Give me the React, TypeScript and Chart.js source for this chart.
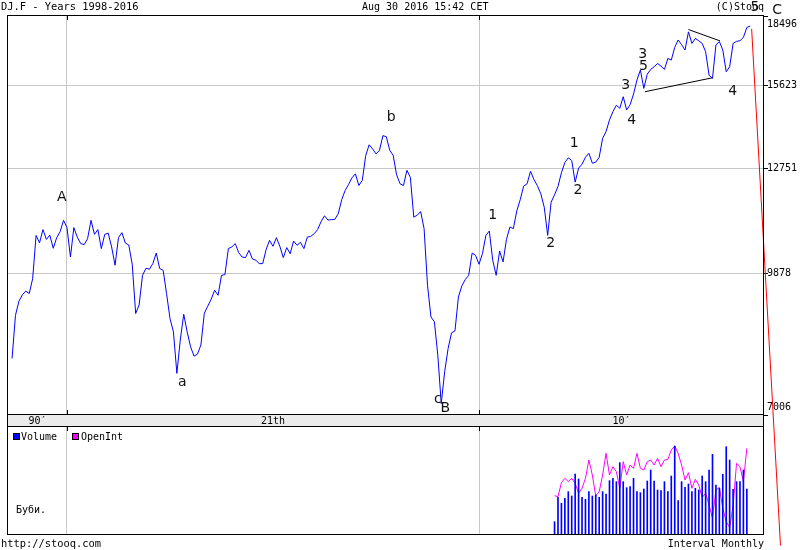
import React, { useEffect, useRef } from "react";
import { Chart, registerables } from "chart.js";
Chart.register(...registerables);

// months counted from Jan 1998 (0); first close = Sep 1998
const FIRST_MONTH = 8;
const closes = [
  8040, 8930, 9240, 9385, 9470, 9415, 9760, 10845, 10650, 11000, 10740, 10853, 10510, 10786, 10945, 11250,
  11053, 10289, 11053, 10800, 10632, 10605, 10760, 11250, 10872, 11000, 10502, 10872,
  10907, 10545, 10086, 10786, 10918, 10647, 10595, 10110, 8968, 9152, 9841, 10013,
  9988, 10126, 10390, 10005, 9964, 9415, 8860, 8577, 7753, 8408, 8952, 8577,
  8271, 8085, 8124, 8306, 8975, 9130, 9286, 9491, 9375, 9841, 9858, 10502,
  10545, 10632, 10400, 10289, 10274, 10459, 10241, 10209, 10126, 10126, 10480, 10716,
  10562, 10786, 10562, 10274, 10528, 10374, 10697, 10588, 10665, 10502, 10800, 10819,
  10891, 11000, 11215, 11376, 11258, 11269, 11277, 11432, 11828, 12094, 12276, 12475,
  12597, 12246, 12395, 13169, 13520, 13388, 13224, 13333, 13824, 13791, 13340, 13178,
  12566, 12297, 12246, 12706, 12493, 11338, 11392, 11494, 11026, 9608, 8894, 8790,
  8104, 7203, 7786, 8238, 8556, 8597, 9335, 9592, 9741, 9841, 10390, 10330,
  10110, 10374, 10845, 10962, 10209, 9841, 10441, 10167, 10742, 11069, 11026, 11513,
  11828, 12227, 12297, 12675, 12425, 12240, 12000, 11614, 10845, 11758, 11972, 12219,
  12628, 12950, 13097, 13013, 12346, 12772, 12897, 13116, 13244, 12928, 12960, 13116,
  13736, 13962, 14363, 14656, 14885, 14775, 15197, 14717, 14900, 15297, 15827, 16217,
  15509, 16058, 16240, 16347, 16479, 16375, 16240, 16679, 16616, 17136, 17448, 17249,
  17026, 17796, 17303, 17512, 17415, 17303, 16953, 16018, 15889, 17237, 17380, 17026,
  16150, 16347, 17303, 17390, 17415, 17558, 17987, 18050,
];

// lower panel (monthly from Nov 2011)
const VOL_FIRST_MONTH = 166;
const volume = [
  40, 113, 95, 110, 130, 117, 183, 168, 113, 107, 130, 117, 120, 113, 130, 123,
  163, 170, 160, 217, 160, 142, 145, 170, 130, 127, 138, 162, 195, 162, 135, 133,
  160, 130, 177, 267, 103, 160, 143, 153, 130, 140, 135, 177, 160, 195, 242, 150,
  140, 182, 265, 225, 137, 160, 160, 195, 138,
];
const openInt = [
  118, 115, 157, 170, 160, 170, 155, 125, 140, 170, 225, 180, 117, 130, 180, 245,
  180, 205, 190, 140, 220, 180, 210, 200, 245, 200, 195, 220, 225, 210, 230, 205,
  225, 227, 255, 267, 245, 210, 165, 187, 140, 167, 150, 113, 125, 90, 50, 135,
  143, 80, 40, 23, 87, 215, 205, 160, 260,
];

const yTicks = [7006, 9878, 12751, 15623, 18496];
const decadeStarts = [24, 144];
const decadeLabels = ["90\u2032", "21th", "10\u2032"];

const waveLabels = [
  { t: "A", m: 22.5, v: 11890 },
  { t: "a", m: 57.6, v: 7593 },
  { t: "b", m: 118.4, v: 14454 },
  { t: "c", m: 132.0, v: 7284 },
  { t: "B", m: 134.2, v: 7120 },
  { t: "1", m: 148.0, v: 11384 },
  { t: "2", m: 164.9, v: 10632 },
  { t: "1", m: 171.7, v: 13552 },
  { t: "2", m: 172.8, v: 12099 },
  { t: "3", m: 186.7, v: 15638 },
  { t: "4", m: 188.5, v: 14363 },
  { t: "3", m: 191.7, v: 16857 },
  { t: "5", m: 191.9, v: 16375 },
  { t: "4", m: 217.9, v: 15384 },
  { t: "5", m: 224.4, v: 18906 },
  { t: "C", m: 230.8, v: 18746 },
];

const forecastLine = [{ x: 223.4, y: 17930 }, { x: 231.8, y: 5100 }];
const trendUpper = [{ x: 205.0, y: 17897 }, { x: 214.2, y: 17408 }];
const trendLower = [{ x: 192.35, y: 15384 }, { x: 211.95, y: 15914 }];

const X_MIN = 6.82;
const X_MAX = 227.0;
const MONO = '10px "DejaVu Sans Mono", monospace';
const MONO_WIDE = '10.4px "DejaVu Sans Mono", monospace';
const GRID = "#c8c8c8";

function xScaleOpts() {
  return {
    type: "linear" as const,
    min: X_MIN,
    max: X_MAX,
    offset: false,
    position: "bottom" as const,
    afterBuildTicks: (s: any) => {
      s.ticks = decadeStarts.map((v) => ({ value: v }));
    },
    afterFit: (s: any) => {
      s.height = 0;
    },
    ticks: { display: false },
    grid: { color: GRID, drawTicks: false, offset: false },
    border: { display: false },
  };
}

const mainDecor = {
  id: "mainDecor",
  afterDraw(chart: any) {
    const { ctx, chartArea: a, scales } = chart;
    const xs = scales.x;
    const ys = scales.y;
    ctx.save();
    // x strip
    ctx.fillStyle = "#ebebeb";
    ctx.fillRect(a.left - 0.5, a.bottom - 0.5, a.right - a.left, 12);
    ctx.strokeStyle = "#000";
    ctx.lineWidth = 1;
    ctx.strokeRect(a.left - 0.5, a.bottom - 0.5, a.right - a.left, 12);
    // frame
    ctx.strokeRect(a.left - 0.5, a.top - 0.5, a.right - a.left, a.bottom - a.top);
    // decade ticks
    ctx.beginPath();
    decadeStarts.forEach((d) => {
      const px = Math.round(xs.getPixelForValue(d)) + 0.5;
      ctx.moveTo(px, a.top);
      ctx.lineTo(px, a.top + 4);
      ctx.moveTo(px, a.bottom - 5);
      ctx.lineTo(px, a.bottom);
    });
    ctx.stroke();
    // strip labels
    ctx.fillStyle = "#000";
    ctx.font = MONO;
    ctx.textBaseline = "middle";
    ctx.textAlign = "center";
    const edges = [a.left, ...decadeStarts.map((d) => xs.getPixelForValue(d)), a.right];
    decadeLabels.forEach((lab, i) => {
      ctx.fillText(lab, (edges[i] + edges[i + 1]) / 2, a.bottom + 6);
    });
    // y labels
    ctx.textAlign = "left";
    yTicks.forEach((v) => {
      let py = ys.getPixelForValue(v);
      py = Math.max(a.top + 8, Math.min(a.bottom - 8, py));
      ctx.fillText(String(v), a.right + 3, py);
    });
    // header / footer
    ctx.fillText("Aug 30 2016 15:42 CET", 362, 7);
    ctx.font = MONO_WIDE;
    ctx.fillText("DJ.F - Years 1998-2016", 1, 7);
    ctx.fillText("http://stooq.com", 1, 544);
    ctx.font = MONO;
    ctx.textAlign = "right";
    ctx.fillText("(C)Stooq", a.right, 7);
    ctx.fillText("Interval Monthly", a.right, 544);
    // wave labels
    ctx.textAlign = "center";
    ctx.font = '14px "DejaVu Sans", sans-serif';
    ctx.fillStyle = "#111";
    waveLabels.forEach((w) => {
      ctx.fillText(w.t, xs.getPixelForValue(w.m), ys.getPixelForValue(w.v));
    });
    ctx.restore();
  },
};

const lowerDecor = {
  id: "lowerDecor",
  afterDraw(chart: any) {
    const { ctx, chartArea: a, scales } = chart;
    const xs = scales.x;
    ctx.save();
    ctx.strokeStyle = "#000";
    ctx.lineWidth = 1;
    ctx.strokeRect(a.left - 0.5, a.top - 0.5, a.right - a.left, a.bottom - a.top);
    ctx.beginPath();
    decadeStarts.forEach((d) => {
      const px = Math.round(xs.getPixelForValue(d)) + 0.5;
      ctx.moveTo(px, a.top);
      ctx.lineTo(px, a.top + 4);
    });
    ctx.stroke();
    // legend
    ctx.fillStyle = "#0000ff";
    ctx.fillRect(14, 434, 5, 5);
    ctx.strokeRect(13.5, 433.5, 6, 6);
    ctx.fillStyle = "#ff00ff";
    ctx.fillRect(73, 434, 5, 5);
    ctx.strokeRect(72.5, 433.5, 6, 6);
    ctx.fillStyle = "#000";
    ctx.font = MONO;
    ctx.textBaseline = "middle";
    ctx.textAlign = "left";
    ctx.fillText("Volume", 21, 437);
    ctx.fillText("OpenInt", 81, 437);
    ctx.fillText("\u0411\u0443\u0431\u0438.", 16, 510);
    ctx.restore();
  },
};

export default function App() {
  const mainRef = useRef<HTMLCanvasElement>(null);
  const lowRef = useRef<HTMLCanvasElement>(null);

  useEffect(() => {
    const closePts = closes.map((v, i) => ({ x: FIRST_MONTH + i, y: v }));
    const main = new Chart(mainRef.current as HTMLCanvasElement, {
      type: "line",
      data: {
        datasets: [
          { data: closePts, borderColor: "#0000ff", borderWidth: 1, pointRadius: 0, tension: 0 },
          { data: trendUpper, borderColor: "#000", borderWidth: 1, pointRadius: 0 },
          { data: trendLower, borderColor: "#000", borderWidth: 1, pointRadius: 0 },
          { data: forecastLine, borderColor: "#ff0000", borderWidth: 1, pointRadius: 0, clip: false as any },
        ],
      },
      options: {
        animation: false,
        responsive: false,
        maintainAspectRatio: false,
        layout: { padding: { left: 8, top: 16, right: 0, bottom: 135 } },
        plugins: { legend: { display: false }, tooltip: { enabled: false } },
        scales: {
          x: xScaleOpts() as any,
          y: {
            type: "logarithmic",
            min: 7006,
            max: 18496,
            position: "right",
            afterBuildTicks: (s: any) => {
              s.ticks = yTicks.map((v) => ({ value: v }));
            },
            afterFit: (s: any) => {
              s.width = 36;
            },
            ticks: { display: false },
            grid: {
              color: (c: any) =>
                c.index === 0 || c.index === yTicks.length - 1 ? "rgba(0,0,0,0)" : GRID,
              tickColor: "#000",
              tickLength: 4,
              drawTicks: true,
            },
            border: { display: false },
          } as any,
        },
      },
      plugins: [mainDecor],
    });

    const low = new Chart(lowRef.current as HTMLCanvasElement, {
      type: "line",
      data: {
        datasets: [
          {
            type: "bar",
            data: volume.map((v, i) => ({ x: VOL_FIRST_MONTH + i, y: v })),
            backgroundColor: "#0000ff",
            borderWidth: 0,
            barThickness: 1,
            grouped: false,
            yAxisID: "y",
          } as any,
          {
            type: "line",
            data: openInt.map((v, i) => ({ x: VOL_FIRST_MONTH + i, y: v })),
            borderColor: "#ff00ff",
            borderWidth: 1,
            pointRadius: 0,
            tension: 0,
            yAxisID: "y2",
          } as any,
        ],
      },
      options: {
        animation: false,
        responsive: false,
        maintainAspectRatio: false,
        layout: { padding: { left: 8, top: 427, right: 36, bottom: 15 } },
        plugins: { legend: { display: false }, tooltip: { enabled: false } },
        scales: {
          x: xScaleOpts() as any,
          y: { display: false, min: 0, max: 324 },
          y2: { display: false, min: 0, max: 324 },
        },
      },
      plugins: [lowerDecor],
    });

    return () => {
      main.destroy();
      low.destroy();
    };
  }, []);

  const cs: React.CSSProperties = { position: "absolute", left: 0, top: 0, width: 800, height: 550 };
  return (
    <div style={{ position: "absolute", left: 0, top: 0, width: 800, height: 550, background: "#fff" }}>
      <canvas ref={mainRef} width={800} height={550} style={cs} />
      <canvas ref={lowRef} width={800} height={550} style={cs} />
    </div>
  );
}
